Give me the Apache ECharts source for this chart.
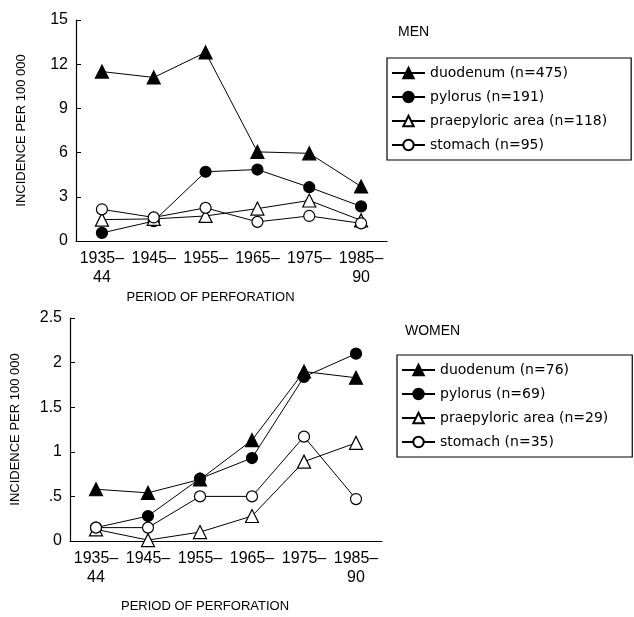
<!DOCTYPE html>
<html>
<head>
<meta charset="utf-8">
<script src="https://cdn.jsdelivr.net/npm/echarts@6/dist/echarts.min.js"></script>
<style>
  html, body { margin: 0; padding: 0; background: #fff; }
  #chart { width: 634px; height: 617px; }
</style>
</head>
<body>
<div id="chart"></div>
<script>
// periods of perforation (x categories)
const periods = ['1935–\n44', '1945–', '1955–', '1965–', '1975–', '1985–\n90']

// men, incidence per 100 000
const menDuodenum = [11.5, 11.1, 12.8, 6.05, 5.95, 3.7]
const menPylorus = [0.55, 1.35, 4.7, 4.85, 3.65, 2.35]
const menPraepyloric = [1.45, 1.5, 1.7, 2.2, 2.75, 1.4]
const menStomach = [2.15, 1.6, 2.25, 1.3, 1.7, 1.2]

// women, incidence per 100 000
const womenDuodenum = [0.58, 0.54, 0.69, 1.13, 1.9, 1.83]
const womenPylorus = [0.15, 0.28, 0.7, 0.93, 1.84, 2.1]
const womenPraepyloric = [0.13, 0.01, 0.1, 0.28, 0.89, 1.1]
const womenStomach = [0.15, 0.15, 0.5, 0.5, 1.17, 0.47]

const menNames = ['duodenum (n=475)', 'pylorus (n=191)', 'praepyloric area (n=118)', 'stomach (n=95)']
const womenNames = ['duodenum (n=76)', 'pylorus (n=69)', 'praepyloric area (n=29)', 'stomach (n=35)']

const font = 'Liberation Sans'

// marker styles in legend order: filled triangle, filled circle, open triangle, open circle
const markers = [
  { symbol: 'triangle', size: 13, fill: '#000' },
  { symbol: 'circle', size: 11, fill: '#000' },
  { symbol: 'triangle', size: 13, fill: '#fff' },
  { symbol: 'circle', size: 11, fill: '#fff' }
]

const makeSeries = (name, data, idx, axis) => ({
  name,
  type: 'line',
  data,
  xAxisIndex: axis,
  yAxisIndex: axis,
  symbol: markers[idx].symbol,
  symbolSize: markers[idx].size,
  lineStyle: { color: '#000', width: 1 },
  itemStyle: { color: markers[idx].fill, borderColor: '#000', borderWidth: 1.2 },
  emphasis: { disabled: true },
  animation: false,
  z: 2 + idx
})

const xAxisBase = (gridIndex, nameGap) => ({
  type: 'category',
  gridIndex,
  data: periods,
  boundaryGap: true,
  axisLine: { lineStyle: { color: '#000', width: 1.2 } },
  axisTick: { inside: true, alignWithLabel: true, length: 5, lineStyle: { color: '#000' } },
  axisLabel: { color: '#000', fontFamily: font, fontSize: 16, margin: 8, lineHeight: 19, interval: 0 },
  name: 'PERIOD OF PERFORATION',
  nameLocation: 'middle',
  nameGap,
  nameTextStyle: { color: '#000', fontFamily: font, fontSize: 13, padding: [0, 42, 0, 0] }
})

const yAxisBase = (gridIndex, max, interval, fmt) => ({
  type: 'value',
  gridIndex,
  min: 0,
  max,
  interval,
  splitLine: { show: false },
  axisLine: { show: true, lineStyle: { color: '#000', width: 1.2 } },
  axisTick: { show: true, inside: true, length: 5, lineStyle: { color: '#000' } },
  axisLabel: { color: '#000', fontFamily: font, fontSize: 16, margin: 8, formatter: fmt },
  name: 'INCIDENCE PER 100 000',
  nameLocation: 'middle',
  nameGap: 48,
  nameTextStyle: { color: '#000', fontFamily: font, fontSize: 13 }
})

const legendBase = (names, left, top) => ({
  data: names,
  orient: 'vertical',
  left,
  top,
  itemWidth: 33,
  itemHeight: 13,
  itemGap: 10,
  padding: [8, 24, 8, 4],
  borderColor: '#000',
  borderWidth: 1.2,
  selectedMode: false,
  textStyle: { color: '#000', fontFamily: 'DejaVu Sans', fontSize: 14 }
})

const chart = echarts.init(document.getElementById('chart'))

chart.setOption({
  animation: false,
  backgroundColor: '#fff',
  title: [
    { text: 'MEN', left: 393, top: 20, textStyle: { color: '#000', fontFamily: font, fontSize: 14, fontWeight: 'normal' } },
    { text: 'WOMEN', left: 400, top: 319, textStyle: { color: '#000', fontFamily: font, fontSize: 14, fontWeight: 'normal' } }
  ],
  grid: [
    { left: 76, right: 247, top: 20, bottom: 376 },
    { left: 70, right: 252, top: 318, bottom: 76 }
  ],
  xAxis: [xAxisBase(0, 50), xAxisBase(1, 59)],
  yAxis: [
    yAxisBase(0, 15, 3),
    yAxisBase(1, 2.5, 0.5, v => (v === 0.5 ? '.5' : String(v)))
  ],
  legend: [
    legendBase(menNames, 387, 58),
    legendBase(womenNames, 397, 355)
  ],
  series: [
    makeSeries(menNames[0], menDuodenum, 0, 0),
    makeSeries(menNames[1], menPylorus, 1, 0),
    makeSeries(menNames[2], menPraepyloric, 2, 0),
    makeSeries(menNames[3], menStomach, 3, 0),
    makeSeries(womenNames[0], womenDuodenum, 0, 1),
    makeSeries(womenNames[1], womenPylorus, 1, 1),
    makeSeries(womenNames[2], womenPraepyloric, 2, 1),
    makeSeries(womenNames[3], womenStomach, 3, 1)
  ]
})
</script>
</body>
</html>
